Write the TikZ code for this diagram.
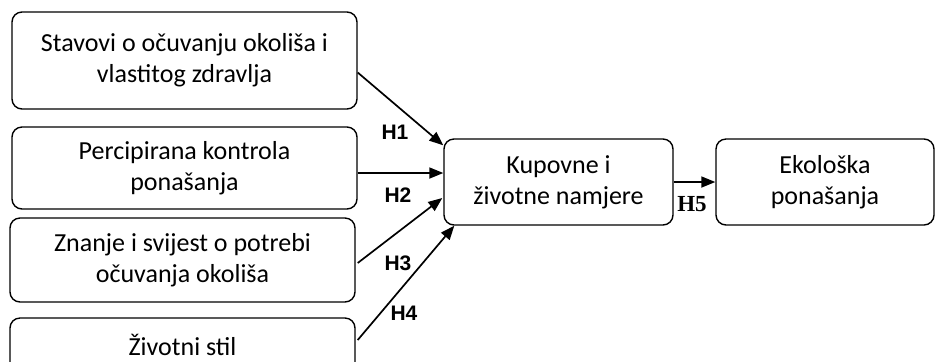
\documentclass[tikz,border=0pt]{standalone}
\usepackage{fontspec}
\setmainfont{Carlito}
\newfontfamily\hsans{Liberation Sans}
\newfontfamily\hserif{Liberation Serif}
\usetikzlibrary{positioning, arrows.meta, calc}

\begin{document}
\begin{tikzpicture}[x=0.5pt, y=-0.5pt, >={Triangle[length=7pt,width=5.5pt]}, line width=0.85pt,
    okvir/.style={draw, rounded corners=5pt, align=center, line width=0.7pt, inner sep=0pt,
        font=\fontsize{13}{15.5}\selectfont},
    hip/.style={font=\hsans\bfseries\fontsize{10.5}{12}\selectfont}]
    \useasboundingbox (0,0) rectangle (936,361);

    % Prediktori
    \node[okvir, minimum width=172.5pt, minimum height=48.5pt] (s1) at (184.5,60.5)
        {Stavovi o očuvanju okoliša i\\vlastitog zdravlja};
    \node[okvir, minimum width=172.5pt, minimum height=41pt] (s2) at (184.5,168)
        {Percipirana kontrola\\ponašanja};
    \node[okvir, minimum width=172.5pt, minimum height=42pt] (s3) at (182.5,260)
        {Znanje i svijest o potrebi\\očuvanja okoliša};
    \node[okvir, minimum width=172.5pt, minimum height=42pt] (s4) at (182.5,360)
        {Životni stil\\\mbox{}};

    % Namjere i ponašanja
    \node[okvir, minimum width=114.5pt, minimum height=43pt] (k) at (558.5,182)
        {Kupovne i\\životne namjere};
    \node[okvir, minimum width=109pt, minimum height=43pt] (e) at (825,182)
        {Ekološka\\ponašanja};

    % Hipoteze H1-H4
    \draw[->] ($(s1.east)+(0,12)$) -- ($(k.north west)+(0,7)$);
    \draw[->] ($(s2.east)+(0,5)$) -- ($(k.west)+(0,-9)$);
    \draw[->] ($(s3.east)+(2,3)$) -- ($(k.west)+(-1,16)$);
    \draw[->] ($(s4.east)+(2,-20)$) -- ($(k.south west)+(11,0)$);
    \node[hip] (h1) at (395,132) {H1};
    \node[hip] (h2) at (398,195) {H2};
    \node[hip] (h3) at (398,263) {H3};
    \node[hip] (h4) at (404,313) {H4};

    % H5
    \draw[->] (k) -- (e);
    \node[font=\hserif\bfseries\fontsize{11.5}{13}\selectfont] (h5) at (692,204) {H5};
\end{tikzpicture}
\end{document}
